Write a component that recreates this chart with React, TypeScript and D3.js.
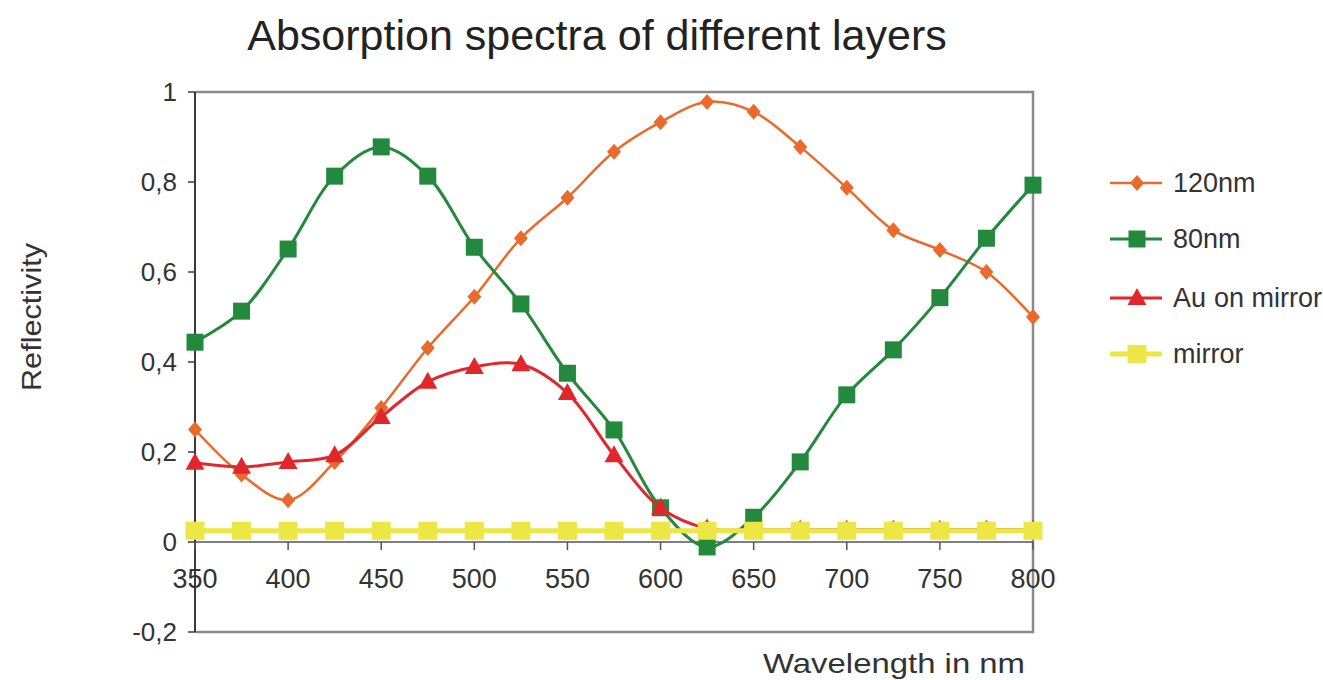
import React from "react";
import * as d3 from "d3";

const wavelengths = [350, 375, 400, 425, 450, 475, 500, 525, 550, 575, 600, 625, 650, 675, 700, 725, 750, 775, 800];
const series120nm = [0.25, 0.15, 0.093, 0.178, 0.298, 0.431, 0.545, 0.675, 0.765, 0.867, 0.933, 0.978, 0.956, 0.878, 0.787, 0.693, 0.649, 0.6, 0.5];
const series80nm = [0.444, 0.513, 0.651, 0.813, 0.878, 0.813, 0.655, 0.529, 0.375, 0.249, 0.076, -0.011, 0.055, 0.178, 0.327, 0.427, 0.543, 0.675, 0.793];
const seriesAu = [0.176, 0.167, 0.178, 0.193, 0.278, 0.356, 0.389, 0.395, 0.331, 0.193, 0.076, 0.03, 0.027, 0.027, 0.027, 0.027, 0.027, 0.027, 0.027];
const seriesMirror = [0.025, 0.025, 0.025, 0.025, 0.025, 0.025, 0.025, 0.025, 0.025, 0.025, 0.025, 0.025, 0.025, 0.025, 0.025, 0.025, 0.025, 0.025, 0.025];
const xTicks = [350, 400, 450, 500, 550, 600, 650, 700, 750, 800];
const yTicks = [1, 0.8, 0.6, 0.4, 0.2, 0, -0.2];
const yTickLabels = ["1", "0,8", "0,6", "0,4", "0,2", "0", "-0,2"];
const legendLabels = ["120nm", "80nm", "Au", "mirror"];

const FONT = "'Liberation Sans', Arial, sans-serif";

const C_ORANGE = "#EA6A2B";
const C_GREEN = "#23893C";
const C_RED = "#E1272C";
const C_YELLOW = "#ECE745";

type Marker = "diamond" | "square" | "triangle" | "ysquare";

function markerPath(kind: Marker, cx: number, cy: number): string {
  if (kind === "diamond") {
    return `M${cx},${cy - 8}L${cx + 7},${cy}L${cx},${cy + 8}L${cx - 7},${cy}Z`;
  }
  if (kind === "triangle") {
    return `M${cx},${cy - 10}L${cx + 9.5},${cy + 7}L${cx - 9.5},${cy + 7}Z`;
  }
  if (kind === "square") {
    return `M${cx - 8.5},${cy - 8.5}h17v17h-17Z`;
  }
  return `M${cx - 9.5},${cy - 9}h19v18h-19Z`;
}

export default function App() {
  const left = 195;
  const right = 1033;
  const top = 92;
  const bottom = 632;

  const x = d3.scaleLinear().domain([350, 800]).range([left, right]);
  const y = d3.scaleLinear().domain([-0.2, 1]).range([bottom, top]);

  const line = d3
    .line<number>()
    .x((_, i) => x(wavelengths[i]))
    .y((d) => y(d))
    .curve(d3.curveCatmullRom.alpha(0.5));

  const series: { values: number[]; color: string; width: number; marker: Marker }[] = [
    { values: series120nm, color: C_ORANGE, width: 2.5, marker: "diamond" },
    { values: series80nm, color: C_GREEN, width: 3, marker: "square" },
    { values: seriesAu, color: C_RED, width: 3, marker: "triangle" },
    { values: seriesMirror, color: C_YELLOW, width: 5, marker: "ysquare" },
  ];

  const legendY = [183, 239, 298, 354];

  return (
    <svg
      width={1323}
      height={680}
      style={{ position: "absolute", left: 0, top: 0, background: "#fff" }}
      fontFamily={FONT}
    >
      <rect x={0} y={0} width={1323} height={680} fill="#fff" />
      {/* Title */}
      <text x={597} y={50} textAnchor="middle" fontSize={43} fill="#222">
        Absorption spectra of different layers
      </text>

      {/* Frame (top/right/bottom) */}
      <path
        d={`M${left},${top}H${right}V${bottom}H${left}`}
        fill="none"
        stroke="#8a8a8a"
        strokeWidth={2.5}
      />
      {/* Left axis */}
      <line x1={left} x2={left} y1={top} y2={bottom} stroke="#3a3a3a" strokeWidth={2} />
      {/* Zero line */}
      <line x1={left} x2={right} y1={y(0)} y2={y(0)} stroke="#555" strokeWidth={1.5} />

      {/* Y ticks */}
      {yTicks.map((t, i) => (
        <g key={"yt" + i}>
          <line x1={left - 7} x2={left} y1={y(t)} y2={y(t)} stroke="#3a3a3a" strokeWidth={1.5} />
          <text
            x={left - 18}
            y={y(t)}
            dy="0.35em"
            textAnchor="end"
            fontSize={26}
            fill="#333"
          >
            {yTickLabels[i]}
          </text>
        </g>
      ))}

      {/* X ticks */}
      {xTicks.map((t) => (
        <g key={"xt" + t}>
          <line x1={x(t)} x2={x(t)} y1={y(0)} y2={y(0) + 8} stroke="#555" strokeWidth={1.5} />
          <text x={x(t)} y={588} textAnchor="middle" fontSize={27} fill="#333">
            {t}
          </text>
        </g>
      ))}

      {/* Axis titles */}
      <text
        transform={`translate(41,${317}) rotate(-90)`}
        textAnchor="middle"
        fontSize={28}
        fill="#333"
        textLength={148}
        lengthAdjust="spacingAndGlyphs"
      >
        Reflectivity
      </text>
      <text
        x={763}
        y={673}
        fontSize={28}
        fill="#333"
        textLength={262}
        lengthAdjust="spacingAndGlyphs"
      >
        Wavelength in nm
      </text>

      {/* Series */}
      {series.map((s, si) => (
        <g key={"s" + si}>
          <path d={line(s.values) || ""} fill="none" stroke={s.color} strokeWidth={s.width} />
          {s.values.map((v, i) => (
            <path key={i} d={markerPath(s.marker, x(wavelengths[i]), y(v))} fill={s.color} />
          ))}
        </g>
      ))}

      {/* Legend */}
      {series.map((s, i) => (
        <g key={"lg" + i}>
          <line x1={1110} x2={1162} y1={legendY[i]} y2={legendY[i]} stroke={s.color} strokeWidth={s.width} />
          <path d={markerPath(s.marker, 1137, legendY[i])} fill={s.color} />
          <text x={1173} y={legendY[i]} dy="0.35em" fontSize={27} fill="#333">
            {legendLabels[i]}
            {i === 2 ? <tspan x={1214}>on mirror</tspan> : null}
          </text>
        </g>
      ))}
    </svg>
  );
}
